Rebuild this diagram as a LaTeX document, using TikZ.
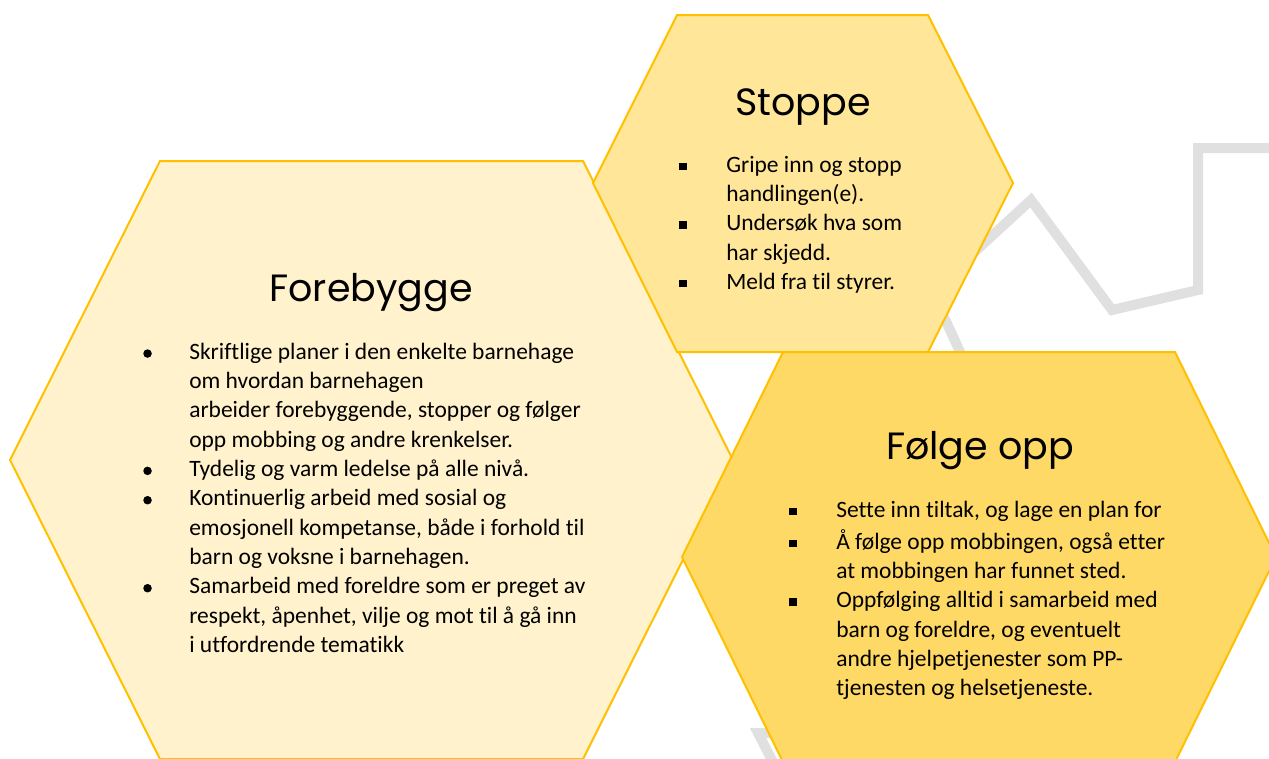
\documentclass[tikz,border=0pt]{standalone}
\usepackage{fontspec}
\setmainfont{Carlito}[Ligatures=NoCommon]
\newfontfamily\titlefont{Poppins}

\definecolor{goldline}{HTML}{FFC000}
\definecolor{forefill}{HTML}{FFF2CC}
\definecolor{stopfill}{HTML}{FFE699}
\definecolor{folgfill}{HTML}{FFD966}
\definecolor{zigzag}{HTML}{E0E0E0}

\newcommand{\dotmark}{\makebox[34.5pt][l]{\tikz[baseline=-4.1pt]\fill (3.2pt,0pt) circle (3.2pt);}}
\newcommand{\sqmark}{\makebox[35.25pt][l]{\raisebox{1.4pt}{\rule{5.5pt}{5.5pt}}}}

\tikzset{
  hexagon/.style={draw=goldline, line width=1.5pt, line join=miter},
  titletext/.style={font=\titlefont\fontsize{28.5}{34}\selectfont, inner sep=0pt, anchor=base},
  bodytext/.style={font=\fontsize{17.6}{22}\selectfont, inner sep=0pt, anchor=base west}
}

\begin{document}
\begin{tikzpicture}[x=0.75pt,y=-0.75pt]
    \clip (0,0) rectangle (1269,758);

    % grey line behind the hexagons
    \draw[zigzag, line width=7.5pt, line join=miter]
        (778,772) -- (758,733) -- (900,733) -- (985,406) -- (932,291)
        -- (1031,200) -- (1112,310) -- (1198,290) -- (1198,148) -- (1290,148);

    % the three hexagons
    \draw[hexagon, fill=forefill] (10,460) -- (160,161) -- (583,161) -- (733,460) -- (583,759) -- (160,759) -- cycle;
    \draw[hexagon, fill=stopfill] (593,183) -- (677,15) -- (928,15) -- (1013,183) -- (928,352) -- (677,352) -- cycle;
    \draw[hexagon, fill=folgfill] (682,557) -- (783,352) -- (1175,352) -- (1276,557) -- (1175,762) -- (783,762) -- cycle;

    % titles
    \node[titletext] (forebygge) at (371,301) {Forebygge};
    \node[titletext] (stoppe) at (803,115) {Stoppe};
    \node[titletext] (folgeopp) at (980,459) {Følge opp};

    % lists
    \node[bodytext] (forebyggelist) at (143,359) {\begin{tabular}[t]{@{}l@{}l@{}}
        \dotmark & Skriftlige planer i den enkelte barnehage\\
                 & om hvordan barnehagen\\
                 & arbeider forebyggende, stopper og følger\\
                 & opp mobbing og andre krenkelser.\\
        \dotmark & Tydelig og varm ledelse på alle nivå.\\
        \dotmark & Kontinuerlig arbeid med sosial og\\
                 & emosjonell kompetanse, både i forhold til\\
                 & barn og voksne i barnehagen.\\
        \dotmark & Samarbeid med foreldre som er preget av\\
                 & respekt, åpenhet, vilje og mot til å gå inn\\
                 & i utfordrende tematikk
    \end{tabular}};

    \node[bodytext] (stoppelist) at (679,172) {\begin{tabular}[t]{@{}l@{}l@{}}
        \sqmark & Gripe inn og stopp\\
                & handlingen(e).\\
        \sqmark & Undersøk hva som\\
                & har skjedd.\\
        \sqmark & Meld fra til styrer.
    \end{tabular}};

    \node[bodytext] (folgeopplist) at (789,517) {\begin{tabular}[t]{@{}l@{}l@{}}
        \sqmark & Sette inn tiltak, og lage en plan for\\[2pt]
        \sqmark & Å følge opp mobbingen, også etter\\
                & at mobbingen har funnet sted.\\
        \sqmark & Oppfølging alltid i samarbeid med\\
                & barn og foreldre, og eventuelt\\
                & andre hjelpetjenester som PP-\\
                & tjenesten og helsetjeneste.
    \end{tabular}};
\end{tikzpicture}
\end{document}
